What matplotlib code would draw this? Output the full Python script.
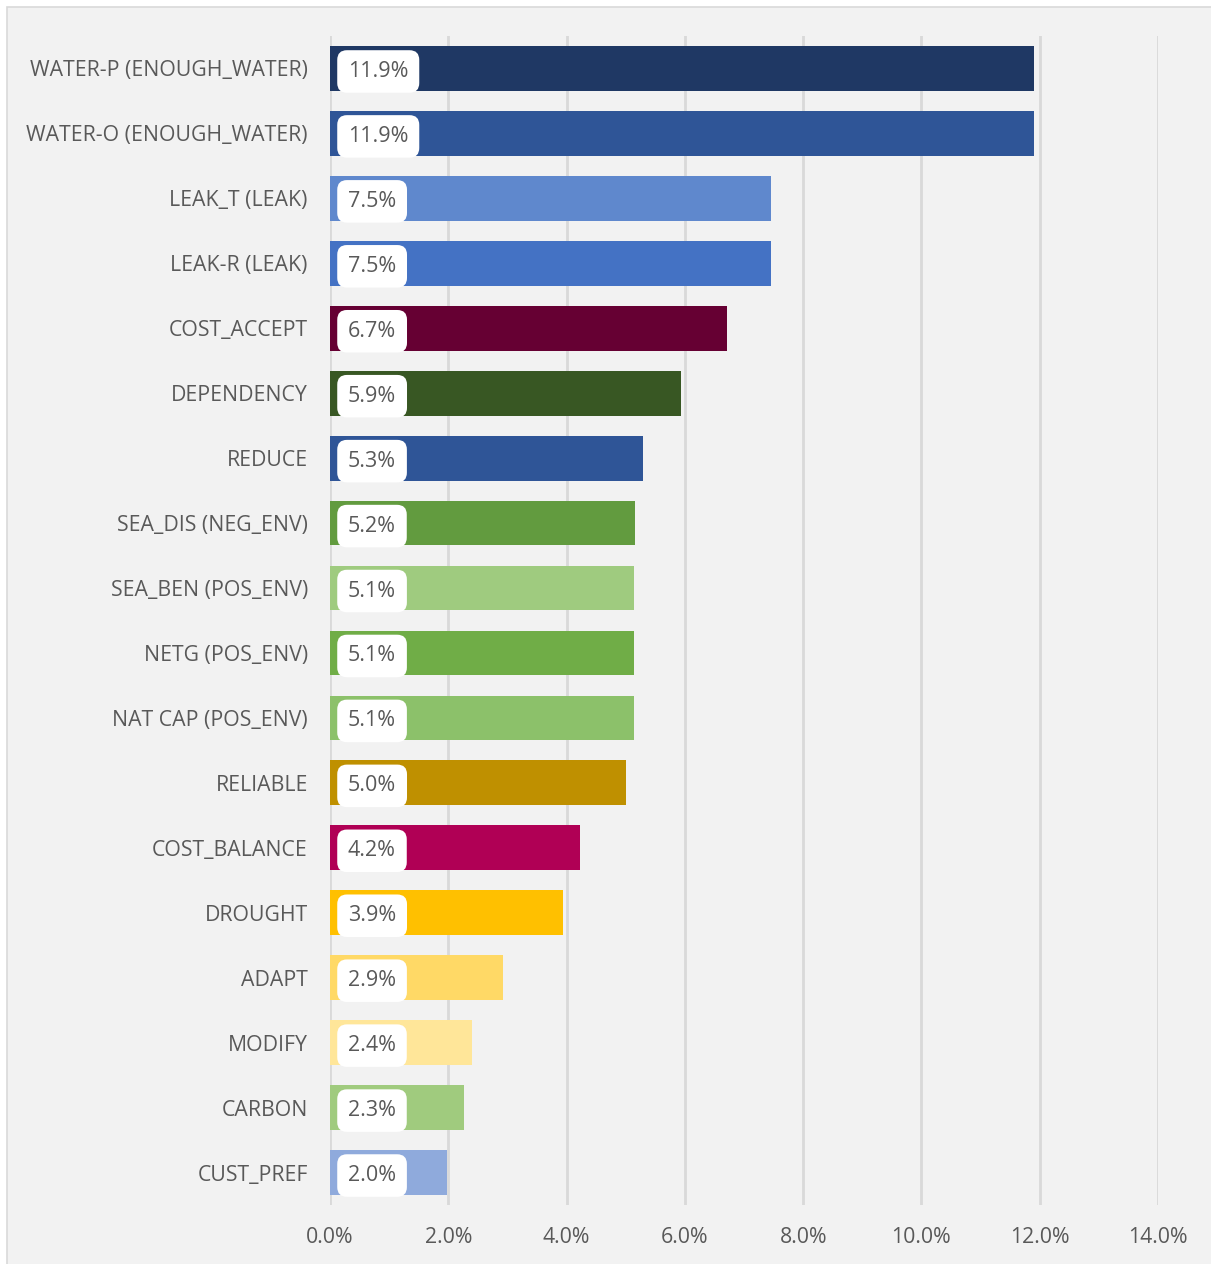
import matplotlib
matplotlib.use("Agg")
import matplotlib.pyplot as plt
from matplotlib.patches import Rectangle

categories = ["WATER-P (ENOUGH_WATER)", "WATER-O (ENOUGH_WATER)", "LEAK_T (LEAK)", "LEAK-R (LEAK)",
              "COST_ACCEPT", "DEPENDENCY", "REDUCE", "SEA_DIS (NEG_ENV)", "SEA_BEN (POS_ENV)",
              "NETG (POS_ENV)", "NAT CAP (POS_ENV)", "RELIABLE", "COST_BALANCE", "DROUGHT",
              "ADAPT", "MODIFY", "CARBON", "CUST_PREF"]
values = [11.9, 11.9, 7.46, 7.46, 6.71, 5.93, 5.29, 5.16, 5.14, 5.14, 5.14, 5.0, 4.23, 3.94,
          2.93, 2.40, 2.27, 1.98]
labels = ["11.9%", "11.9%", "7.5%", "7.5%", "6.7%", "5.9%", "5.3%", "5.2%", "5.1%", "5.1%",
          "5.1%", "5.0%", "4.2%", "3.9%", "2.9%", "2.4%", "2.3%", "2.0%"]
colors = ["#1f3864", "#2f5597", "#5f88cd", "#4472c4", "#660033", "#385723", "#2f5597",
          "#629b3f", "#9fcb7f", "#70ad47", "#8cc16a", "#bf9000", "#b00055", "#ffc000",
          "#ffd966", "#ffe699", "#a0cb7e", "#8faadc"]
xticks = [0, 2, 4, 6, 8, 10, 12, 14]
xticklabels = ["0.0%", "2.0%", "4.0%", "6.0%", "8.0%", "10.0%", "12.0%", "14.0%"]

plt.rcParams['font.family'] = ['Open Sans', 'DejaVu Sans']
W, H = 1211, 1264
fig = plt.figure(figsize=(W / 100, H / 100), dpi=100)
fig.patch.set_facecolor("white")
fig.patches.append(Rectangle((7 / W, -0.01), 1.1, 1 - 7 / H + 0.01, transform=fig.transFigure,
                             facecolor="#f2f2f2", edgecolor="#d9d9d9", linewidth=1.2, zorder=-10))

ax = fig.add_axes([330 / W, 1 - 1205 / H, (1158 - 330) / W, (1205 - 36) / H])
ax.set_facecolor("none")
n = len(categories)
ypos = list(range(n))
ax.barh(ypos, values, height=0.69, color=colors, zorder=3)
ax.set_ylim(n - 0.5, -0.5)
ax.set_xlim(0, 14)
ax.set_yticks(ypos)
ax.set_yticklabels(categories, fontsize=15.3, color="#595959")
ax.set_xticks(xticks)
ax.set_xticklabels(xticklabels, fontsize=15.3, color="#595959")
ax.tick_params(axis="both", length=0)
ax.tick_params(axis="y", pad=16)
ax.tick_params(axis="x", pad=16)
for s in ax.spines.values():
    s.set_visible(False)
ax.grid(axis="x", color="#d9d9d9", linewidth=2, zorder=0)
ax.set_axisbelow(True)

for i, lab in enumerate(labels):
    ax.annotate(lab, xy=(0, i), xytext=(18, -3), textcoords="offset pixels",
                ha="left", va="center", fontsize=15.5, color="#595959", zorder=5,
                bbox=dict(boxstyle="round,pad=0.5,rounding_size=0.45", facecolor="white",
                          edgecolor="none"))

fig.savefig("out.png", dpi=100, facecolor=fig.get_facecolor())
